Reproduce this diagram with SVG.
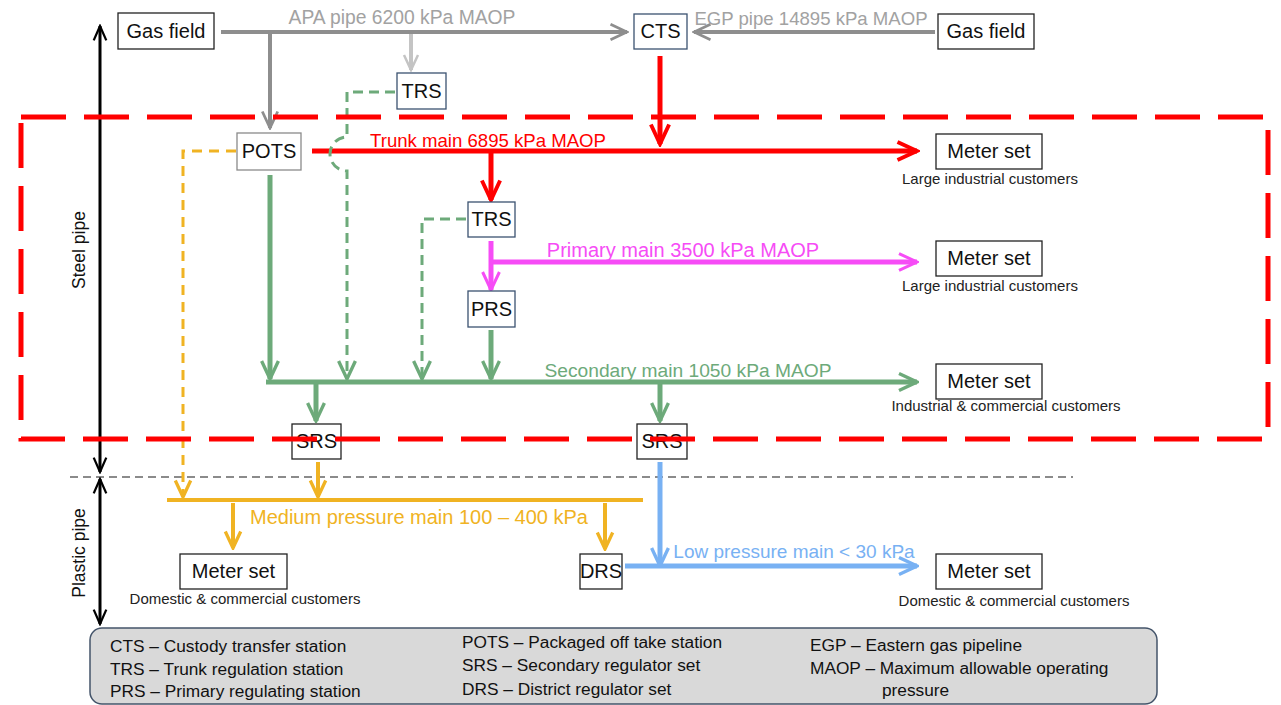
<svg xmlns="http://www.w3.org/2000/svg" width="1281" height="705" viewBox="0 0 1281 705">
<style>
text{font-family:"Liberation Sans",Arial,sans-serif;}
.box{fill:#fff;stroke:#222;stroke-width:1.3;}
.bt{font-size:20px;fill:#111;text-anchor:middle;}
.cap{font-size:15px;fill:#222;text-anchor:middle;}
.leg{font-size:17.3px;fill:#111;}
.grey{stroke:#8e8e8e;stroke-width:4;fill:none;}
.lgrey{stroke:#c4c4c4;stroke-width:4;fill:none;}
.red{stroke:#ff0000;stroke-width:5;fill:none;}
.mag{stroke:#f64cf6;stroke-width:5;fill:none;}
.grn{stroke:#6daa7a;stroke-width:5;fill:none;}
.grnd{stroke:#6daa7a;stroke-width:3;fill:none;stroke-dasharray:10 6;}
.yel{stroke:#f0b323;stroke-width:4;fill:none;}
.yeld{stroke:#f0b323;stroke-width:3;fill:none;stroke-dasharray:10 7;}
.blu{stroke:#78b1f3;stroke-width:5;fill:none;}
.blk{stroke:#000;stroke-width:3;fill:none;}
</style>
<defs>
<marker id="aGrey" viewBox="0 0 20 20" markerUnits="userSpaceOnUse" markerWidth="22" markerHeight="22" refX="18" refY="10" orient="auto"><path d="M3,3 L18,10 L3,17" fill="none" stroke="#8e8e8e" stroke-width="2.5"/></marker>
<marker id="aLGrey" viewBox="0 0 20 20" markerUnits="userSpaceOnUse" markerWidth="20" markerHeight="20" refX="18" refY="10" orient="auto"><path d="M3,3 L18,10 L3,17" fill="none" stroke="#c4c4c4" stroke-width="2.5"/></marker>
<marker id="aRed" viewBox="0 0 20 20" markerUnits="userSpaceOnUse" markerWidth="26" markerHeight="26" refX="18" refY="10" orient="auto"><path d="M3,3 L18,10 L3,17" fill="none" stroke="#ff0000" stroke-width="3"/></marker>
<marker id="aMag" viewBox="0 0 20 20" markerUnits="userSpaceOnUse" markerWidth="24" markerHeight="24" refX="18" refY="10" orient="auto"><path d="M3,3 L18,10 L3,17" fill="none" stroke="#f64cf6" stroke-width="2.5"/></marker>
<marker id="aGrn" viewBox="0 0 20 20" markerUnits="userSpaceOnUse" markerWidth="24" markerHeight="24" refX="18" refY="10" orient="auto"><path d="M3,3 L18,10 L3,17" fill="none" stroke="#6daa7a" stroke-width="2.8"/></marker>
<marker id="aYel" viewBox="0 0 20 20" markerUnits="userSpaceOnUse" markerWidth="22" markerHeight="22" refX="18" refY="10" orient="auto"><path d="M3,3 L18,10 L3,17" fill="none" stroke="#f0b323" stroke-width="3"/></marker>
<marker id="aBlu" viewBox="0 0 20 20" markerUnits="userSpaceOnUse" markerWidth="24" markerHeight="24" refX="18" refY="10" orient="auto"><path d="M3,3 L18,10 L3,17" fill="none" stroke="#78b1f3" stroke-width="2.8"/></marker>
<marker id="aBlk" viewBox="0 0 20 20" markerUnits="userSpaceOnUse" markerWidth="18" markerHeight="18" refX="18" refY="10" orient="auto-start-reverse"><path d="M2,3 L18,10 L2,17" fill="none" stroke="#000" stroke-width="2.5"/></marker>
</defs>

<!-- axes / zones -->
<g id="zones">
<line x1="70" y1="477" x2="1073" y2="477" stroke="#666" stroke-width="1.5" stroke-dasharray="8 5"/>
<line x1="100" y1="26" x2="100" y2="472" class="blk" marker-start="url(#aBlk)" marker-end="url(#aBlk)"/>
<line x1="100" y1="479" x2="100" y2="624" class="blk" marker-start="url(#aBlk)" marker-end="url(#aBlk)"/>
<text transform="translate(85,250) rotate(-90)" font-size="17.5" fill="#111" text-anchor="middle">Steel pipe</text>
<text transform="translate(85,553) rotate(-90)" font-size="17.5" fill="#111" text-anchor="middle">Plastic pipe</text>
</g>

<!-- connectors -->
<g id="connectors">
<path d="M221,32 H627" class="grey" marker-end="url(#aGrey)"/>
<path d="M270,32 V128" class="grey" marker-end="url(#aGrey)"/>
<path d="M411,34 V70" class="lgrey" marker-end="url(#aLGrey)"/>
<path d="M935,32 H694" class="grey" marker-end="url(#aGrey)"/>
<text x="402" y="24" font-size="19.3" fill="#a2a2a2" text-anchor="middle">APA pipe 6200 kPa MAOP</text>
<text x="811" y="25" font-size="18.6" fill="#a2a2a2" text-anchor="middle">EGP pipe 14895 kPa MAOP</text>

<path d="M660,56 V144" class="red" stroke-width="4" marker-end="url(#aRed)"/>
<path d="M312,151 H917" class="red" marker-end="url(#aRed)"/>
<path d="M491,151 V200" class="red" stroke-width="4" marker-end="url(#aRed)"/>
<text x="488" y="147" font-size="18.6" fill="#ff0000" text-anchor="middle">Trunk main 6895 kPa MAOP</text>

<path d="M395,92 H347 V137 A17,17 0 0 0 347,171 V379" class="grnd" marker-end="url(#aGrn)"/>
<path d="M466,219 H422 V379" class="grnd" marker-end="url(#aGrn)"/>

<path d="M491,241 V290" class="mag" stroke-width="4" marker-end="url(#aMag)"/>
<path d="M493,262 H917" class="mag" marker-end="url(#aMag)"/>
<text x="683" y="257" font-size="20" fill="#f64cf6" text-anchor="middle">Primary main 3500 kPa MAOP</text>

<path d="M270,175 V379" class="grn" marker-end="url(#aGrn)"/>
<path d="M491,330 V379" class="grn" marker-end="url(#aGrn)"/>
<path d="M266,382 H917" class="grn" stroke-width="6" marker-end="url(#aGrn)"/>
<path d="M316,382 V421" class="grn" marker-end="url(#aGrn)"/>
<path d="M660,382 V421" class="grn" marker-end="url(#aGrn)"/>
<text x="688" y="377" font-size="19.2" fill="#6daa7a" text-anchor="middle">Secondary main 1050 kPa MAOP</text>

<path d="M236,151 H183 V497" class="yeld" marker-end="url(#aYel)"/>
<path d="M318,462 V497" class="yel" marker-end="url(#aYel)"/>
<path d="M167,500 H643" class="yel" stroke-width="3.5"/>
<path d="M233,503 V548" class="yel" marker-end="url(#aYel)"/>
<path d="M605,503 V549" class="yel" marker-end="url(#aYel)"/>
<text x="419" y="524" font-size="20" fill="#f0b323" text-anchor="middle">Medium pressure main 100 – 400 kPa</text>

<path d="M660,462 V566" class="blu" stroke-width="4" marker-end="url(#aBlu)"/>
<path d="M625,566 H917" class="blu" marker-end="url(#aBlu)"/>
<text x="794" y="558" font-size="19" fill="#78b1f3" text-anchor="middle">Low pressure main &lt; 30 kPa</text>
</g>

<!-- nodes -->
<g id="gasfield1"><rect x="118" y="13" width="96" height="36" class="box"/><text x="166" y="38" class="bt">Gas field</text></g>
<g id="cts"><rect x="634" y="14" width="53" height="35" class="box" style="stroke:#3b5270"/><text x="660.5" y="38" class="bt">CTS</text></g>
<g id="gasfield2"><rect x="938" y="14" width="96" height="35" class="box"/><text x="986" y="38" class="bt">Gas field</text></g>
<g id="trs1"><rect x="397" y="73" width="49" height="36" class="box" style="stroke:#3b5270"/><text x="421.5" y="98" class="bt">TRS</text></g>
<g id="pots"><rect x="237" y="133" width="64" height="37" class="box" style="stroke:#8a8a8a"/><text x="269" y="158" class="bt">POTS</text></g>
<g id="meter1"><rect x="936" y="134" width="106" height="35" class="box"/><text x="989" y="158" class="bt">Meter set</text><text x="990" y="184" class="cap">Large industrial customers</text></g>
<g id="trs2"><rect x="468" y="202" width="47" height="35" class="box" style="stroke:#3b5270"/><text x="491.5" y="226" class="bt">TRS</text></g>
<g id="meter2"><rect x="936" y="241" width="106" height="35" class="box"/><text x="989" y="265" class="bt">Meter set</text><text x="990" y="291" class="cap">Large industrial customers</text></g>
<g id="prs"><rect x="468" y="291" width="47" height="36" class="box" style="stroke:#3b5270"/><text x="491.5" y="316" class="bt">PRS</text></g>
<g id="meter3"><rect x="936" y="364" width="106" height="35" class="box"/><text x="989" y="388" class="bt">Meter set</text><text x="1006" y="411" class="cap">Industrial &amp; commercial customers</text></g>
<g id="srs1"><rect x="292" y="424" width="49" height="35" class="box"/><text x="316.5" y="448" class="bt">SRS</text></g>
<g id="srs2"><rect x="637" y="424" width="50" height="35" class="box"/><text x="662" y="448" class="bt">SRS</text></g>
<g id="meter4"><rect x="180" y="554" width="107" height="35" class="box"/><text x="233.5" y="578" class="bt">Meter set</text><text x="245" y="604" class="cap">Domestic &amp; commercial customers</text></g>
<g id="drs"><rect x="580" y="554" width="42" height="35" class="box"/><text x="601" y="578" class="bt">DRS</text></g>
<g id="meter5"><rect x="936" y="554" width="106" height="35" class="box"/><text x="989" y="578" class="bt">Meter set</text><text x="1014" y="606" class="cap">Domestic &amp; commercial customers</text></g>

<!-- steel boundary -->
<g id="steel-boundary">
<rect x="21" y="117" width="1247" height="322" fill="none" stroke="#ff0000" stroke-width="5" stroke-dasharray="45 18"/>
</g>

<!-- legend -->
<g id="legend">
<rect x="90" y="628" width="1067" height="76" rx="12" fill="#d9d9d9" stroke="#44546a" stroke-width="1.5"/>
<text x="110" y="652" class="leg">CTS – Custody transfer station</text>
<text x="110" y="675" class="leg">TRS – Trunk regulation station</text>
<text x="110" y="697" class="leg">PRS – Primary regulating station</text>
<text x="462" y="648" class="leg">POTS – Packaged off take station</text>
<text x="462" y="671" class="leg">SRS – Secondary regulator set</text>
<text x="462" y="695" class="leg">DRS – District regulator set</text>
<text x="810" y="651" class="leg">EGP – Eastern gas pipeline</text>
<text x="810" y="674" class="leg">MAOP – Maximum allowable operating</text>
<text x="882" y="696" class="leg">pressure</text>
</g>
</svg>
